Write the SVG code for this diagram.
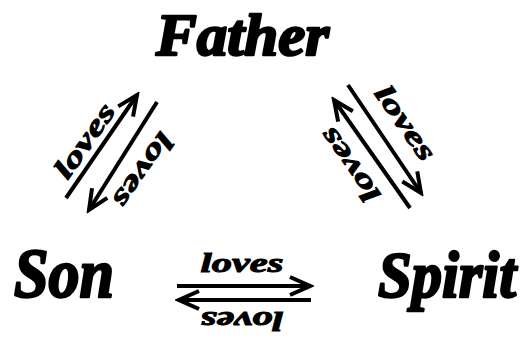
<svg xmlns="http://www.w3.org/2000/svg" width="530" height="338" viewBox="0 0 530 338">
<style>
.big{font-family:"Liberation Serif","DejaVu Serif",serif;font-weight:bold;font-style:italic;fill:#000;stroke:#000;stroke-width:2.5;stroke-linejoin:round}
.lab{font-family:"Liberation Serif","DejaVu Serif",serif;font-weight:bold;font-style:italic;font-size:28px;fill:#000;stroke:#000;stroke-width:1;text-anchor:middle}
.arr{stroke:#000;stroke-width:4;fill:none;marker-end:url(#head)}
</style>
<defs>
<marker id="head" markerUnits="userSpaceOnUse" viewBox="-24 -13 28 26" markerWidth="28" markerHeight="26" refX="0" refY="0" orient="auto">
<path d="M-20,-9 L0,0 L-20,9" fill="none" stroke="#000" stroke-width="4"/>
</marker>
</defs>
<rect width="530" height="338" fill="#fff"/>
<g id="father"><text class="big" x="156" y="55" font-size="60" textLength="173" lengthAdjust="spacingAndGlyphs">Father</text></g>
<g id="son"><text class="big" x="14" y="297" font-size="70" textLength="100" lengthAdjust="spacingAndGlyphs">Son</text></g>
<g id="spirit"><text class="big" x="378" y="297" font-size="66" textLength="138" lengthAdjust="spacingAndGlyphs">Spirit</text></g>
<g id="connectors">
<line class="arr" x1="66" y1="198" x2="137" y2="95"/>
<line class="arr" x1="157" y1="102" x2="89" y2="210"/>
<line class="arr" x1="348" y1="85" x2="421" y2="193"/>
<line class="arr" x1="410" y1="208" x2="334" y2="100"/>
<line class="arr" x1="177" y1="286" x2="310" y2="286"/>
<line class="arr" x1="311" y1="300" x2="179" y2="300"/>
<g id="labels">
<text class="lab" transform="translate(92,146) rotate(-55)" textLength="85" lengthAdjust="spacingAndGlyphs">loves</text>
<text class="lab" transform="translate(136,165) rotate(125)" textLength="85" lengthAdjust="spacingAndGlyphs">loves</text>
<text class="lab" transform="translate(398,128) rotate(55)" textLength="85" lengthAdjust="spacingAndGlyphs">loves</text>
<text class="lab" transform="translate(357,160) rotate(-125)" textLength="85" lengthAdjust="spacingAndGlyphs">loves</text>
<text class="lab" transform="translate(242,272)" textLength="83" lengthAdjust="spacingAndGlyphs">loves</text>
<text class="lab" transform="translate(242,312) rotate(180)" textLength="83" lengthAdjust="spacingAndGlyphs">loves</text>
</g>
</g>
</svg>
